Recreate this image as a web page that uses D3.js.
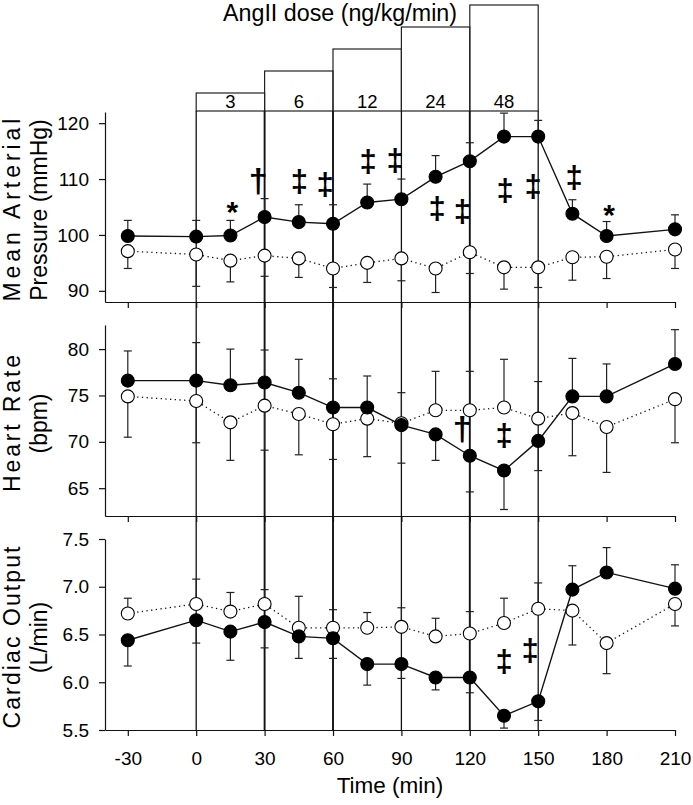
<!DOCTYPE html>
<html>
<head>
<meta charset="utf-8">
<script src="https://cdn.jsdelivr.net/npm/d3@7"></script>
<style>
  body { margin: 0; background: #fff; }
  text { font-family: "Liberation Sans", Arial, sans-serif; fill: #000; }
</style>
</head>
<body>
<div id="chart"></div>
<script>
// time points (min)
const times = [-30, 0, 15, 30, 45, 60, 75, 90, 105, 120, 135, 150, 165, 180, 210];
const xTicks = [-30, 0, 30, 60, 90, 120, 150, 180, 210];

// Mean arterial pressure (mmHg)
const mapAng = [99.8, 99.7, 99.9, 103.2, 102.3, 102.0, 105.8, 106.4, 110.4, 113.2, 117.6, 117.6, 103.8, 99.8, 101.0];
const mapAngErr = [2.8, 2.9, 2.7, 3.3, 3.1, 3.4, 3.3, 3.6, 3.8, 3.3, 4.2, 2.9, 2.5, 2.6, 2.6];
const mapCtl = [97.1, 96.5, 95.4, 96.3, 95.8, 94.0, 95.0, 95.8, 94.0, 96.9, 94.2, 94.2, 96.0, 96.1, 97.4];
const mapCtlErr = [3.1, 5.7, 3.8, 3.7, 3.4, 3.4, 3.5, 4.0, 4.3, 3.8, 3.9, 3.6, 4.1, 3.9, 3.4];

// Heart rate (bpm)
const hrAng = [76.6, 76.6, 76.1, 76.4, 75.3, 73.7, 73.7, 71.8, 70.8, 68.5, 66.9, 70.1, 74.9, 74.9, 78.4];
const hrAngErr = [3.2, 4.1, 3.9, 3.5, 3.6, 3.1, 3.4, 4.1, 2.8, 3.9, 4.2, 3.2, 4.1, 3.5, 3.7];
const hrCtl = [74.9, 74.4, 72.1, 73.9, 73.0, 71.9, 72.5, 72.0, 73.4, 73.4, 73.7, 72.5, 73.1, 71.6, 74.6];
const hrCtlErr = [4.4, 4.5, 4.1, 4.8, 4.4, 3.8, 4.1, 3.3, 4.2, 4.2, 5.2, 4.0, 4.6, 4.9, 4.7];

// Cardiac output (L/min)
const coAng = [6.44, 6.65, 6.53, 6.63, 6.48, 6.46, 6.19, 6.19, 6.05, 6.05, 5.65, 5.80, 6.97, 7.15, 6.98];
const coAngErr = [0.27, 0.24, 0.30, 0.27, 0.23, 0.21, 0.22, 0.15, 0.13, 0.16, 0.13, 0.20, 0.25, 0.26, 0.25];
const coCtl = [6.72, 6.82, 6.74, 6.82, 6.57, 6.57, 6.57, 6.58, 6.48, 6.51, 6.62, 6.77, 6.75, 6.41, 6.82];
const coCtlErr = [0.16, 0.26, 0.20, 0.15, 0.33, 0.19, 0.16, 0.20, 0.19, 0.23, 0.26, 0.27, 0.36, 0.32, 0.23];

// AngII infusion steps
const doses = [3, 6, 12, 24, 48];
const doseStart = [0, 30, 60, 90, 120];
const doseLength = 30;

// significance marks: [time, value, symbol]
const mapMarks = [[15.8, 105.5, "*"], [27.2, 109.5, "†"], [45.2, 109.3, "‡"], [56.6, 108.8, "‡"],
  [75.4, 112.9, "‡"], [87.3, 113.1, "‡"], [105.7, 104.5, "‡"], [116.7, 103.9, "‡"],
  [135.5, 107.7, "‡"], [147.8, 108.4, "‡"], [165.8, 110.0, "‡"], [181.1, 105.0, "*"]];
const hrMarks = [[116.7, 71.3, "†"], [135.1, 70.6, "‡"]];
const coMarks = [[135.1, 6.20, "‡"], [146.5, 6.32, "‡"]];

const width = 693, height = 805;
const font = "'Liberation Sans', Arial, sans-serif";

const svg = d3.select("#chart").append("svg")
    .attr("width", width)
    .attr("height", height);

const x = d3.scaleLinear().domain([-40, 210]).range([105, 675]);
const hyphenFmt = d => String(d);

const panels = [
  { lines: ["Mean Arterial", "Pressure (mmHg)"], spread: [183, null], domain: [88, 122], range: [302, 112],
    ticks: [90, 100, 110, 120], fmt: d3.format("d"),
    ang: mapAng, angErr: mapAngErr, ctl: mapCtl, ctlErr: mapCtlErr, marks: mapMarks },
  { lines: ["Heart Rate", "(bpm)"], spread: [137, null], domain: [62, 82.6], range: [516, 325],
    ticks: [65, 70, 75, 80], fmt: d3.format("d"),
    ang: hrAng, angErr: hrAngErr, ctl: hrCtl, ctlErr: hrCtlErr, marks: hrMarks },
  { lines: ["Cardiac Output", "(L/min)"], spread: [182, null], domain: [5.5, 7.5], range: [730, 539],
    ticks: [5.5, 6.0, 6.5, 7.0, 7.5], fmt: d3.format(".1f"),
    ang: coAng, angErr: coAngErr, ctl: coCtl, ctlErr: coCtlErr, marks: coMarks, labels: true }
];
panels.forEach(p => { p.y = d3.scaleLinear().domain(p.domain).range(p.range); });

// ── Dose boxes ───────────────────────────────────────────────
const boxBase = panels[0].range[1] - 1;
const level = d3.scaleLinear().domain([0, doses.length - 1]).range([93, 5]);

const doseG = svg.append("g");
doseG.selectAll("rect")
    .data(doses)
    .join("rect")
    .attr("x", (d, i) => x(doseStart[i]))
    .attr("y", (d, i) => level(i))
    .attr("width", x(doseLength) - x(0))
    .attr("height", (d, i) => boxBase - level(i))
    .attr("fill", "none")
    .attr("stroke", "#222")
    .attr("stroke-width", 1.2);

doseG.selectAll("text")
    .data(doses)
    .join("text")
    .attr("x", (d, i) => x(doseStart[i] + doseLength / 2))
    .attr("y", boxBase - 3)
    .attr("text-anchor", "middle")
    .attr("font-size", "18.5px")
    .text(d => d);

// boundaries run down through all three panels
const bounds = doseStart.concat([doseStart[doseStart.length - 1] + doseLength]);
doseG.selectAll("line")
    .data(bounds)
    .join("line")
    .attr("x1", d => x(d)).attr("x2", d => x(d))
    .attr("y1", boxBase)
    .attr("y2", panels[2].range[0])
    .attr("stroke", "#111")
    .attr("stroke-width", (d, i) => (i === 1 || i === 2 || i === 4) ? 1.9 : 1.3);

svg.append("text")
    .attr("x", 340)
    .attr("y", 21)
    .attr("text-anchor", "middle")
    .attr("font-size", "23px")
    .attr("textLength", 234)
    .attr("lengthAdjust", "spacingAndGlyphs")
    .text("AngII dose (ng/kg/min)");

// ── Panels ───────────────────────────────────────────────────
panels.forEach(p => {
  const g = svg.append("g");
  const y = p.y;

  // y axis
  const ya = g.append("g")
      .attr("transform", `translate(${x.range()[0]},0)`)
      .call(d3.axisLeft(y).tickValues(p.ticks).tickFormat(p.fmt).tickSize(6).tickPadding(10).tickSizeOuter(0));
  ya.select(".domain").attr("stroke", "#111").attr("stroke-width", 1.2);
  ya.selectAll(".tick line").attr("stroke", "#111").attr("stroke-width", 1.2);
  ya.selectAll("text").attr("font-size", "19px").attr("font-family", font).attr("fill", "#000");

  // x axis
  const xa = g.append("g")
      .attr("transform", `translate(0,${p.range[0]})`)
      .call(d3.axisBottom(x).tickValues(xTicks).tickSize(6).tickPadding(16).tickSizeOuter(0)
        .tickFormat(p.labels ? hyphenFmt : ""));
  xa.select(".domain").attr("stroke", "#111").attr("stroke-width", 1.2);
  xa.selectAll(".tick line").attr("stroke", "#111").attr("stroke-width", 1.2);
  xa.selectAll("text").attr("font-size", "19px").attr("font-family", font).attr("fill", "#000");

  // y label, first line spread like the original
  const cy = (p.range[0] + p.range[1]) / 2 + 3;
  p.lines.forEach((t, i) => {
    const lab = g.append("text")
        .attr("transform", `translate(${20 + i * 27},${cy}) rotate(-90)`)
        .attr("text-anchor", "middle")
        .attr("font-size", "23px")
        .text(t);
    if (p.spread[i]) lab.attr("textLength", p.spread[i]).attr("lengthAdjust", "spacing");
  });

  // error bars point outward: higher series up, lower series down
  const series = [
    { vals: p.ctl, err: p.ctlErr, other: p.ang, filled: false },
    { vals: p.ang, err: p.angErr, other: p.ctl, filled: true }
  ];
  const bars = [];
  series.forEach(s => times.forEach((t, i) => {
    const dir = s.vals[i] >= s.other[i] ? 1 : -1;
    bars.push({ t, v: s.vals[i], end: s.vals[i] + dir * s.err[i] });
  }));

  g.append("g").selectAll("g")
      .data(bars)
      .join("g")
      .each(function(d) {
        const b = d3.select(this);
        b.append("line")
            .attr("x1", x(d.t)).attr("x2", x(d.t))
            .attr("y1", y(d.v)).attr("y2", y(d.end))
            .attr("stroke", "#222").attr("stroke-width", 1.2);
        b.append("line")
            .attr("x1", x(d.t) - 4).attr("x2", x(d.t) + 4)
            .attr("y1", y(d.end)).attr("y2", y(d.end))
            .attr("stroke", "#222").attr("stroke-width", 1.2);
      });

  series.forEach(s => {
    const line = d3.line().x((d, i) => x(times[i])).y(d => y(d));
    g.append("path")
        .datum(s.vals)
        .attr("d", line)
        .attr("fill", "none")
        .attr("stroke", "#111")
        .attr("stroke-width", s.filled ? 1.4 : 1.3)
        .attr("stroke-dasharray", s.filled ? null : "1.3,3.4");

    g.append("g").selectAll("circle")
        .data(s.vals)
        .join("circle")
        .attr("cx", (d, i) => x(times[i]))
        .attr("cy", d => y(d))
        .attr("r", 6.5)
        .attr("fill", s.filled ? "#000" : "#fff")
        .attr("stroke", "#000")
        .attr("stroke-width", 1.1);
  });

  // significance symbols
  g.append("g").selectAll("text")
      .data(p.marks)
      .join("text")
      .attr("x", d => x(d[0]))
      .attr("y", d => y(d[1]))
      .attr("dy", d => d[2] === "*" ? "0.6em" : "0.3em")
      .attr("text-anchor", "middle")
      .attr("font-size", d => d[2] === "*" ? "30px" : d[2] === "†" ? "34px" : "31px")
      .attr("font-weight", "bold")
      .text(d => d[2]);
});

svg.append("text")
    .attr("x", (x.range()[0] + x.range()[1]) / 2)
    .attr("y", 793)
    .attr("text-anchor", "middle")
    .attr("font-size", "22.5px")
    .text("Time (min)");
</script>
</body>
</html>
